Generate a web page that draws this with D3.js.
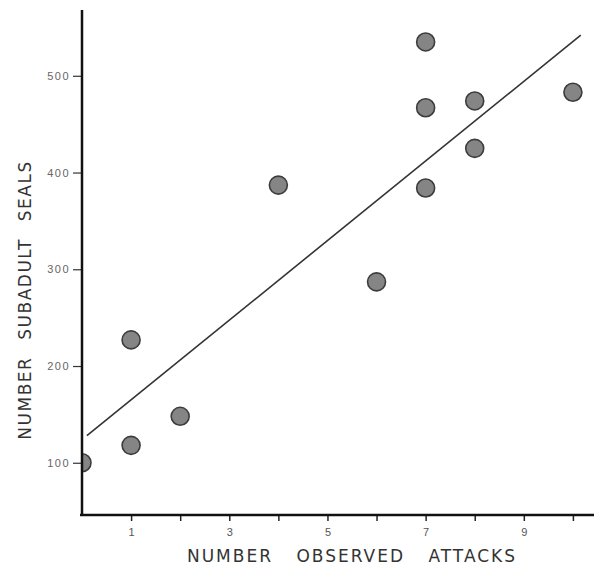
<!DOCTYPE html>
<html>
<head>
<meta charset="utf-8">
<script src="https://cdn.jsdelivr.net/npm/d3@7"></script>
<style>
  html, body { margin: 0; padding: 0; background: #fff; }
  svg { display: block; }
</style>
</head>
<body>
<div id="chart"></div>
<script>
// ---- Data ----
const attacks = [0, 1, 1, 2, 4, 6, 7, 7, 7, 8, 8, 10];
const seals   = [100, 227, 118, 148, 387, 287, 535, 467, 384, 474, 425, 483];

// fitted line as drawn (start / end, in data units)
const fitX = [0.1, 10.16];
const fitY = [128, 542];

const xTicks = [1, 2, 3, 4, 5, 6, 7, 8, 9, 10];
const xLabelled = [1, 3, 5, 7, 9];
const yTicks = [100, 200, 300, 400, 500];

const W = 594, H = 572;

const svg = d3.select("#chart").append("svg")
  .attr("width", W).attr("height", H)
  .style("font-family", "'DejaVu Sans', sans-serif");

// ---- Scales ----
const x = d3.scaleLinear().domain([0, 10.45]).range([82, 595]);
const y = d3.scaleLinear().domain([46, 568]).range([515, 10]);

// clip so the dot sitting on the y axis is cut in half like the original
svg.append("defs").append("clipPath").attr("id", "plot-area")
  .append("rect")
  .attr("x", x(0)).attr("y", 0)
  .attr("width", W - x(0)).attr("height", y(46));

// ---- Fitted line ----
svg.append("line")
  .attr("x1", x(fitX[0])).attr("y1", y(fitY[0]))
  .attr("x2", x(fitX[1])).attr("y2", y(fitY[1]))
  .attr("stroke", "#333")
  .attr("stroke-width", 1.6);

// ---- Points ----
const pts = attacks.map((a, i) => ({ a, s: seals[i] }));
svg.append("g").attr("clip-path", "url(#plot-area)")
  .selectAll("circle")
  .data(pts)
  .join("circle")
  .attr("cx", d => x(d.a))
  .attr("cy", d => y(d.s))
  .attr("r", 9)
  .attr("fill", "#858585")
  .attr("stroke", "#3c3c3c")
  .attr("stroke-width", 1.6);

// ---- Axes ----
const xAxis = d3.axisBottom(x)
  .tickValues(xTicks)
  .tickSize(6)
  .tickFormat(d => xLabelled.includes(d) ? d : "");

const gx = svg.append("g")
  .attr("transform", `translate(0,${y(46)})`)
  .call(xAxis);
gx.select(".domain").remove();
gx.append("line")
  .attr("x1", x(0) - 2).attr("x2", W)
  .attr("stroke", "#111").attr("stroke-width", 2.5);
gx.selectAll(".tick line").attr("stroke", "#222").attr("stroke-width", 1.5);
gx.selectAll(".tick text")
  .attr("dy", "1.05em")
  .attr("font-size", 11)
  .attr("fill", "#555");

const yAxis = d3.axisLeft(y)
  .tickValues(yTicks)
  .tickSize(9)
  .tickPadding(3);

const gy = svg.append("g")
  .attr("transform", `translate(${x(0)},0)`)
  .call(yAxis);
gy.select(".domain").remove();
gy.append("line")
  .attr("y1", y(568)).attr("y2", y(46) + 1)
  .attr("stroke", "#111").attr("stroke-width", 2.5);
gy.selectAll(".tick line").attr("stroke", "#333").attr("stroke-width", 1.2);
gy.selectAll(".tick text")
  .attr("font-size", 11)
  .attr("letter-spacing", 1.5)
  .attr("fill", "#666");

// ---- Axis titles ----
svg.append("text")
  .attr("x", 352).attr("y", 562)
  .attr("text-anchor", "middle")
  .attr("font-size", 17)
  .attr("letter-spacing", 2)
  .attr("word-spacing", 16)
  .attr("fill", "#333")
  .text("NUMBER OBSERVED ATTACKS");

svg.append("text")
  .attr("transform", "translate(31,300) rotate(-90)")
  .attr("text-anchor", "middle")
  .attr("font-size", 17)
  .attr("letter-spacing", 1.5)
  .attr("word-spacing", 10)
  .attr("fill", "#333")
  .text("NUMBER SUBADULT SEALS");
</script>
</body>
</html>
